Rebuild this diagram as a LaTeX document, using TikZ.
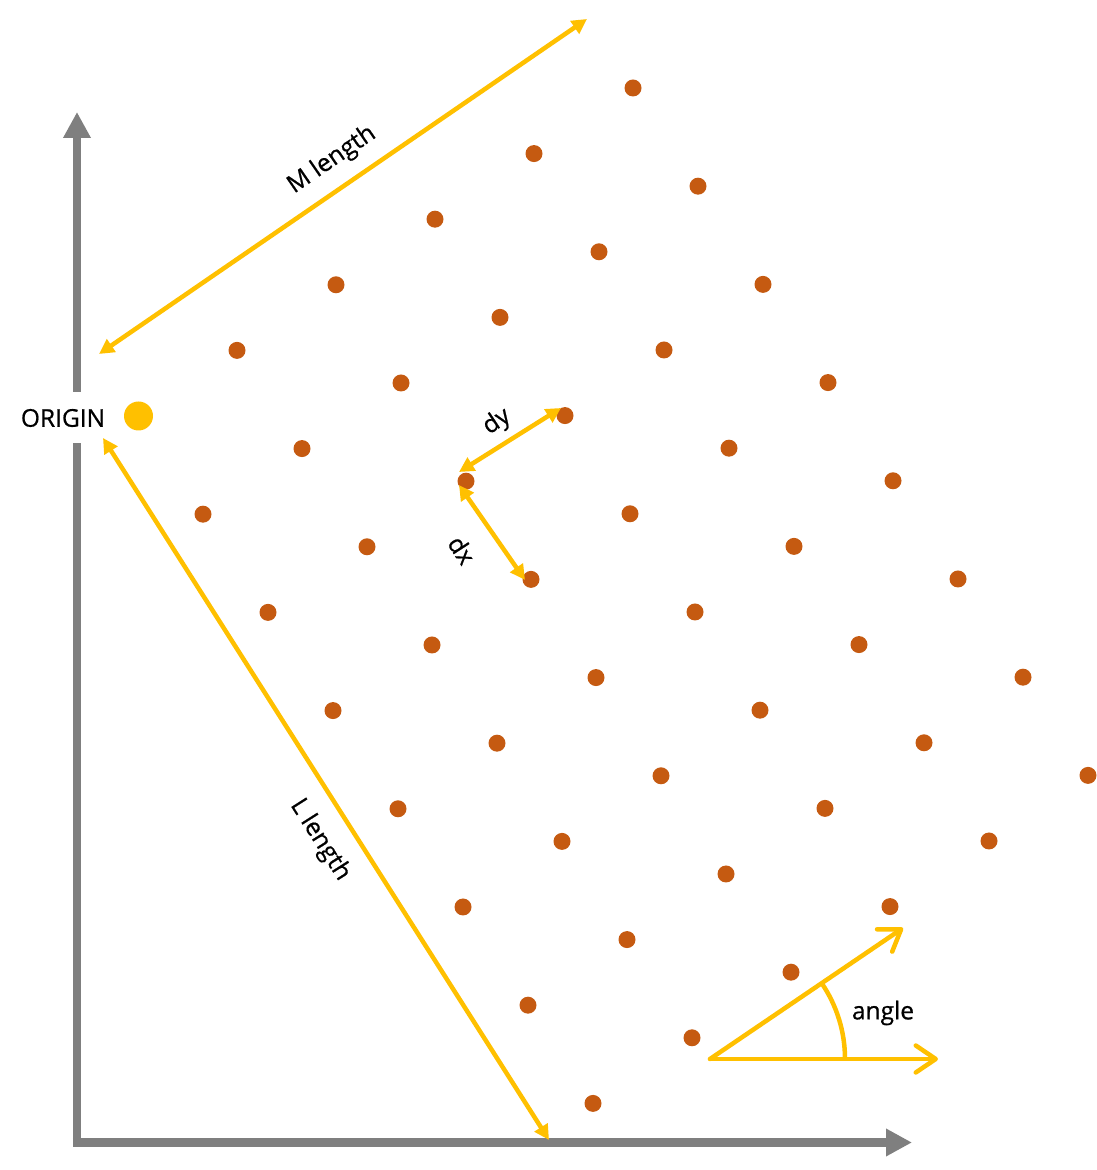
\documentclass[tikz,border=0pt]{standalone}
\usepackage{fontspec}
\setmainfont{Open Sans}
\newfontfamily\lblfont[FakeBold=0.7]{Open Sans}
\usetikzlibrary{arrows.meta}
\definecolor{axgray}{HTML}{7F7F7F}
\definecolor{gold}{HTML}{FFC000}
\definecolor{rust}{HTML}{C55A11}
\begin{document}
\begin{tikzpicture}[x=1pt,y=1pt,
  axis/.style={draw=axgray,line width=8.5pt,-{Triangle[length=26pt,width=26pt]}},
  dim/.style={draw=gold,line width=4.5pt,{Triangle[length=15pt,width=15pt]}-{Triangle[length=15pt,width=15pt]}},
  vec/.style={draw=gold,line width=4.5pt,line cap=round,-{Straight Barb[length=20pt,width=27pt,line cap=round,line join=round]}},
  griddot/.style={circle,fill=rust,inner sep=0pt,minimum size=17pt},
  lbl/.style={font=\lblfont\fontsize{24.5}{28}\selectfont,inner sep=0pt,text=black}]
\useasboundingbox (0,0) rectangle (1097,1170);
% axes
\coordinate (vb) at (77,23.25);
\coordinate (vg1) at (77,727);
\coordinate (vg2) at (77,778);
\coordinate (vt) at (77,1058);
\coordinate (hl) at (72.75,27.5);
\coordinate (hr) at (912,27.5);
\draw[draw=axgray,line width=8.5pt] (vb) -- (vg1);
\draw[axis] (vg2) -- (vt);
\draw[axis] (hl) -- (hr);
% lattice
\foreach \i in {0,...,7}{
  \foreach \j in {0,...,5}{
    \pgfmathsetmacro{\px}{138+65*\i+99*\j}
    \pgfmathsetmacro{\py}{754-98.2*\i+65.6*\j}
    \ifnum\i\j=00\relax\else
      \node[griddot] (d-\i-\j) at (\px,\py) {};
    \fi
  }
}
% origin
\node[circle,fill=gold,inner sep=0pt,minimum size=29pt] (origin) at (138.5,754) {};
\node[lbl] (originlbl) at (63,752) {ORIGIN};
% M length
\coordinate (m1) at (99,816);
\coordinate (m2) at (587,1151);
\draw[dim] (m1) -- (m2);
\node[lbl,rotate=34.5] (mlbl) at (332,1010) {M length};
% L length
\coordinate (l1) at (103,732);
\coordinate (l2) at (549,30);
\draw[dim] (l1) -- (l2);
\node[lbl,rotate=-57.5] (llbl) at (320,330) {L length};
% dy
\coordinate (dy1) at (459,698);
\coordinate (dy2) at (561,762);
\draw[dim] (dy1) -- (dy2);
\node[lbl,rotate=33.5] (dylbl) at (497,748) {dy};
% dx
\coordinate (dx1) at (459,685);
\coordinate (dx2) at (525,590);
\draw[dim] (dx1) -- (dx2);
\node[lbl,rotate=-57] (dxlbl) at (462,620) {dx};
% angle
\coordinate (av) at (710,111);
\coordinate (au) at (903,242);
\coordinate (ar) at (938,111);
\coordinate (aa) at (845,111);
\draw[vec] (av) -- (au);
\draw[vec] (av) -- (ar);
\draw[draw=gold,line width=4.5pt] (aa) arc[start angle=0,end angle=34.2,radius=135pt];
\node[lbl] (anglelbl) at (883,157) {angle};
\end{tikzpicture}
\end{document}
